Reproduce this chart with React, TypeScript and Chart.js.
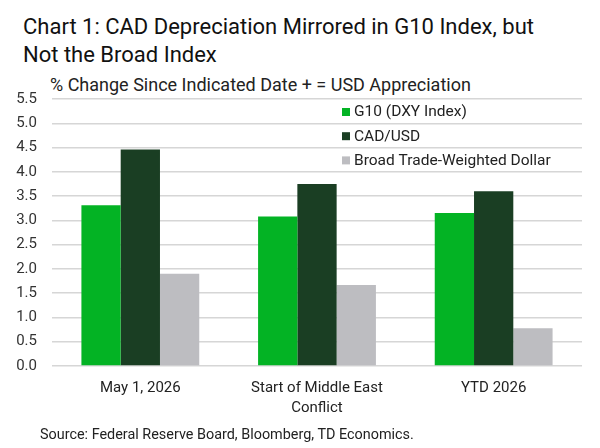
import React, { useEffect, useRef } from "react";
import { Chart, registerables } from "chart.js";

Chart.register(...registerables);

const categories: (string | string[])[] = ["May 1, 2026", ["Start of Middle East", "Conflict"], "YTD 2026"];
const seriesNames = ["G10 (DXY Index)", "CAD/USD", "Broad Trade-Weighted Dollar"];
const g10Values = [3.31, 3.08, 3.15];
const cadValues = [4.46, 3.75, 3.6];
const broadValues = [1.9, 1.67, 0.78];
const seriesColors = ["#03b324", "#1a3e23", "#bdbdc1"];
const yMin = 0;
const yMax = 5.5;
const yStep = 0.5;

const FONT = "Roboto, 'Noto Sans', sans-serif";

const legendPlugin = {
  id: "customLegend",
  afterDatasetsDraw(chart: any) {
    const ctx = chart.ctx;
    ctx.save();
    ctx.font = `15.5px ${FONT}`;
    ctx.textBaseline = "middle";
    ctx.textAlign = "left";
    const x0 = 342;
    const y0 = 112;
    const gap = 24.2;
    chart.data.datasets.forEach((ds: any, i: number) => {
      const y = y0 + i * gap;
      ctx.fillStyle = ds.backgroundColor;
      ctx.fillRect(x0, y - 4, 8, 8);
      ctx.fillStyle = "#222";
      ctx.fillText(ds.label, x0 + 12, y + 0.5);
    });
    ctx.restore();
  },
};

export default function App() {
  const ref = useRef<HTMLCanvasElement | null>(null);

  useEffect(() => {
    if (!ref.current) return;
    const chart = new Chart(ref.current, {
      type: "bar",
      data: {
        labels: categories,
        datasets: [
          { label: seriesNames[0], data: g10Values, backgroundColor: seriesColors[0] },
          { label: seriesNames[1], data: cadValues, backgroundColor: seriesColors[1] },
          { label: seriesNames[2], data: broadValues, backgroundColor: seriesColors[2] },
        ],
      },
      options: {
        animation: false,
        responsive: false,
        maintainAspectRatio: false,
        layout: { padding: { left: 0, top: 99, right: 18, bottom: 0 } },
        datasets: { bar: { barPercentage: 1, categoryPercentage: 0.667 } },
        plugins: {
          legend: { display: false },
          tooltip: { enabled: false },
          title: { display: false },
        },
        scales: {
          x: {
            grid: { display: false, drawTicks: false },
            border: { display: false },
            ticks: {
              color: "#222",
              font: { family: FONT, size: 15, lineHeight: 1.333 },
              padding: 12,
              maxRotation: 0,
              autoSkip: false,
            },
            afterFit: (s: any) => {
              s.height = 82;
            },
          },
          y: {
            min: yMin,
            max: yMax,
            grid: { color: "#d6d6d6", lineWidth: 1.5, drawTicks: false },
            border: { display: false },
            ticks: {
              stepSize: yStep,
              color: "#333",
              font: { family: FONT, size: 15 },
              padding: 15,
              callback: (v: any) => Number(v).toFixed(1),
            },
            afterFit: (s: any) => {
              s.width = 52;
            },
          },
        },
      },
      plugins: [legendPlugin],
    });
    return () => chart.destroy();
  }, []);

  return (
    <div style={{ position: "absolute", left: 0, top: 0, width: 600, height: 448, background: "#fff", fontFamily: FONT, color: "#111" }}>
      <div style={{ position: "absolute", left: 23, top: 13, fontSize: 22, lineHeight: "27.5px", width: 570, whiteSpace: "nowrap" }}>
        Chart 1: CAD Depreciation Mirrored in G10 Index, but
        <br />
        Not the Broad Index
      </div>
      <div style={{ position: "absolute", left: 50, top: 75, fontSize: 18, lineHeight: "20px", color: "#222", whiteSpace: "nowrap" }}>
        % Change Since Indicated Date + = USD Appreciation
      </div>
      <canvas ref={ref} width={600} height={448} style={{ position: "absolute", left: 0, top: 0 }} />
      <div style={{ position: "absolute", left: 40, top: 427, fontSize: 14.4, lineHeight: "16px", color: "#222", whiteSpace: "nowrap" }}>
        Source: Federal Reserve Board, Bloomberg, TD Economics.
      </div>
    </div>
  );
}
